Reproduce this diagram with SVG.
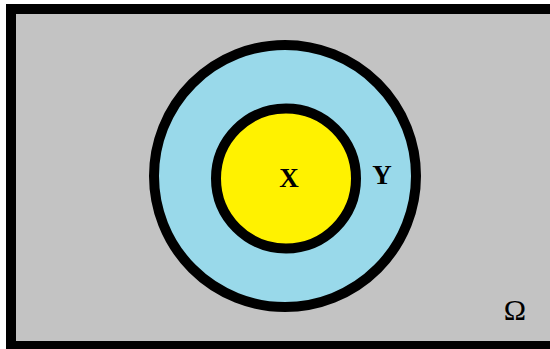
<svg xmlns="http://www.w3.org/2000/svg" width="550" height="349" viewBox="0 0 550 349">
<style>
.ring{stroke:#000;stroke-width:10}
.lbl{font-family:"Liberation Serif","Times New Roman",serif;fill:#000;text-anchor:middle}
</style>
<rect x="0" y="0" width="550" height="349" fill="#fff"/>
<g id="omega">
<rect x="6" y="4" width="560" height="360" fill="#000"/>
<rect x="16" y="14" width="550" height="327" fill="#c3c3c3"/>
<text class="lbl" x="515" y="320" font-size="30">Ω</text>
</g>
<g id="Y">
<circle class="ring" cx="285" cy="176" r="131" fill="#99d9ea"/>
<text class="lbl" x="382" y="184" font-size="27" font-weight="bold">Y</text>
</g>
<g id="X">
<circle class="ring" cx="286" cy="178.5" r="70" fill="#fff200"/>
<text class="lbl" x="289" y="187" font-size="27" font-weight="bold">X</text>
</g>
<g id="connectors"/>
</svg>
